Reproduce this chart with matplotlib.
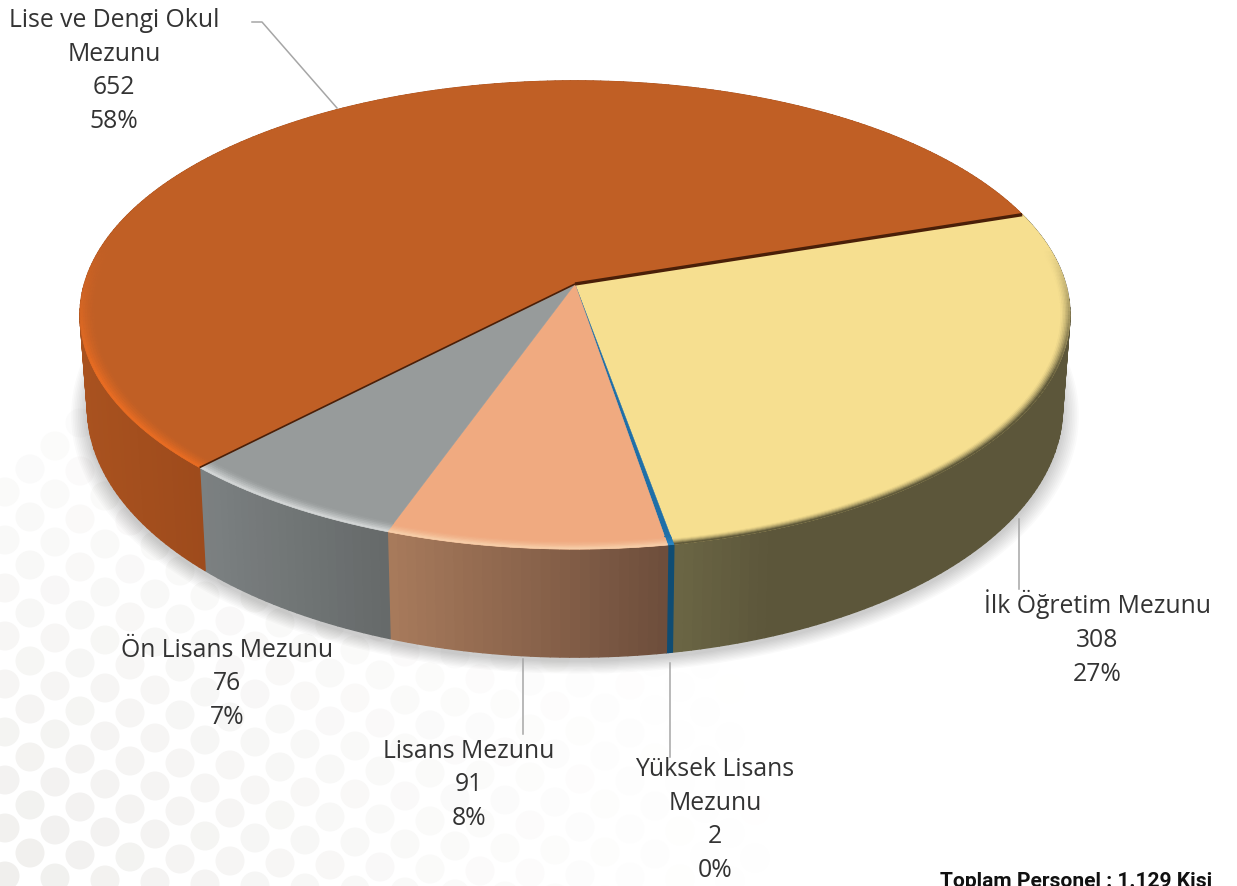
import numpy as np
import matplotlib
matplotlib.use('Agg')
import matplotlib.pyplot as plt
from matplotlib.collections import PolyCollection
from matplotlib.colors import to_rgb
from matplotlib.patches import Polygon, Circle

# Veriler (saat yönünde, üst sağdan başlayarak)
categories = ['İlk Öğretim\u00a0Mezunu', 'Yüksek Lisans\nMezunu', 'Lisans Mezunu',
              'Ön Lisans Mezunu', 'Lise ve Dengi Okul\nMezunu']
values = [308, 2, 91, 76, 652]
percent_labels = ['27%', '0%', '8%', '7%', '58%']
total_label = 'Toplam Personel : 1.129 Kişi'

top_colors = ['#F6DF90', '#1F6FA8', '#F0AA80', '#979B9B', '#C05F25']
rim_colors = ['#5E5839', '#2A86C4', '#F7CDA8', '#D2D5D5', '#E86C22']
rim_start = [0.982, 0.97, 0.975, 0.97, 0.972]
wall_left = ['#6C6745', '#0F4C73', '#A97B5C', '#7C8182', '#A9521F']
wall_right = ['#5C563A', '#0F4C73', '#6E4E3C', '#666A6A', '#9E4B1C']

label_xy = [(1097, 638), (715, 820), (469, 785), (227, 684), (114, 71)]
leaders = [[(1019, 520), (1019, 590)], [(670, 664), (670, 758)],
           [(523, 660), (523, 735)], [(252, 23), (262, 23), (337, 109)]]

# Perspektif geometri (piksel)
cx, cy = 575, 285
a, b, k = 490.6, 230, 0.1325
start = 18.3


def project(t, r=1.0, wall=False):
    u, v = r * np.cos(t), r * np.sin(t)
    w = 1 + k * v
    x = a * u / w
    y = -b * v / w
    if wall:
        x = x * 0.985
        y = y + 90 - 18 * v
    return cx + x, cy + y


def mix(c1, c2, f):
    c1, c2 = np.array(to_rgb(c1)), np.array(to_rgb(c2))
    return tuple(c1 + (c2 - c1) * f)


fig = plt.figure(figsize=(12.37, 8.87), dpi=100)
ax = fig.add_axes([0, 0, 1, 1])
ax.set_xlim(0, 1237)
ax.set_ylim(887, 0)
ax.axis('off')

# Arka plandaki soluk noktalar
for i in range(-8, 24):
    for j in range(-8, 30):
        px = -20 + i * 50 + j * 25
        py = 900 + i * 2 - j * 23
        dist = np.hypot(px * 0.9, (887 - py))
        fade = 1 - dist / 760
        if fade <= 0.03:
            continue
        ax.add_patch(Circle((px, py), 14.5,
                            color=mix('#FFFFFF', '#F0EFED', min(fade ** 1.5, 1)), lw=0, zorder=1))

# Gölge
tt = np.linspace(0, 2 * np.pi, 361)
for n in range(10):
    sx, sy = project(tt, 1.0, True)
    sx = cx + (sx - cx) * (1.002 + n * 0.0035)
    sy = cy + 4 + (sy - cy) * (1.002 + n * 0.0035)
    ax.add_patch(Polygon(np.c_[sx, sy], color='k', alpha=0.018, lw=0, zorder=2))

# Dilim açıları
fracs = np.array(values) / sum(values)
edges = np.radians(start - 360 * np.r_[0, np.cumsum(fracs)])

for i in range(len(values)):
    t0, t1 = edges[i], edges[i + 1]
    n = max(int(np.degrees(t0 - t1)), 3)
    ts = np.linspace(t0, t1, n + 1)

    # Yan duvar
    xt, yt = project(ts)
    xb, yb = project(ts, 1.0, True)
    quads, cols = [], []
    vis = np.sin(ts) < 0.15
    xv = xt[vis] if vis.any() else xt
    xl, xr = xv.min(), xv.max()
    for j in range(n):
        quads.append([(xt[j], yt[j]), (xt[j + 1], yt[j + 1]), (xb[j + 1], yb[j + 1]), (xb[j], yb[j])])
        f = np.clip((xt[j] - xl) / max(xr - xl, 1), 0, 1)
        if i == 0:
            f = min(f * 4, 1)
        cols.append(mix(wall_left[i], wall_right[i], f))
    ax.add_collection(PolyCollection(quads, facecolors=cols, edgecolors=cols, linewidths=1.0, zorder=3))

for i in range(len(values)):
    t0, t1 = edges[i], edges[i + 1]
    n = max(int(np.degrees(t0 - t1)), 3)
    ts = np.linspace(t0, t1, n + 1)

    # Üst yüz
    xt, yt = project(ts)
    ax.add_patch(Polygon(np.r_[[[cx, cy]], np.c_[xt, yt]], color=top_colors[i], lw=0.3, zorder=4))

    # Kenar parlaması
    radii = np.linspace(rim_start[i], 1.0, 7)
    for r0, r1 in zip(radii[:-1], radii[1:]):
        x0, y0 = project(ts, r0)
        x1, y1 = project(ts, r1)
        quads, cols = [], []
        for j in range(n):
            s = np.clip(0.3 - 1.8 * np.sin(ts[j]), 0, 1)
            w = ((r1 - rim_start[i]) / (1 - rim_start[i])) ** 1.5
            quads.append([(x0[j], y0[j]), (x0[j + 1], y0[j + 1]), (x1[j + 1], y1[j + 1]), (x1[j], y1[j])])
            cols.append(mix(top_colors[i], rim_colors[i], s * w))
        ax.add_collection(PolyCollection(quads, facecolors=cols, edgecolors=cols, linewidths=0.5, zorder=5))

# Dilim ayrım çizgileri (Lise dilimi iki kenarı)
for t, lw in [(edges[0], 2.4), (edges[4], 1.2)]:
    ex, ey = project(t)
    ax.plot([cx, ex], [cy, ey], color='#4A1F08', lw=lw, zorder=6, solid_capstyle='butt')

# Kılavuz çizgileri
for pts in leaders:
    ax.plot(*zip(*pts), color='#A6A6A6', lw=1.1, zorder=6)

# Etiketler
for name, val, pct, (lx, ly) in zip(categories, values, percent_labels, label_xy):
    ax.text(lx, ly, f'{name}\n{val}\n{pct}', ha='center', va='center', family='Open Sans',
            fontsize=17.8, color='#333333', linespacing=1.47, zorder=7)

ax.text(1212, 887, total_label, ha='right', va='baseline', family='Roboto', fontweight='bold',
        fontsize=15.1, color='#111111', zorder=7)

fig.savefig('out.png', dpi=100)
